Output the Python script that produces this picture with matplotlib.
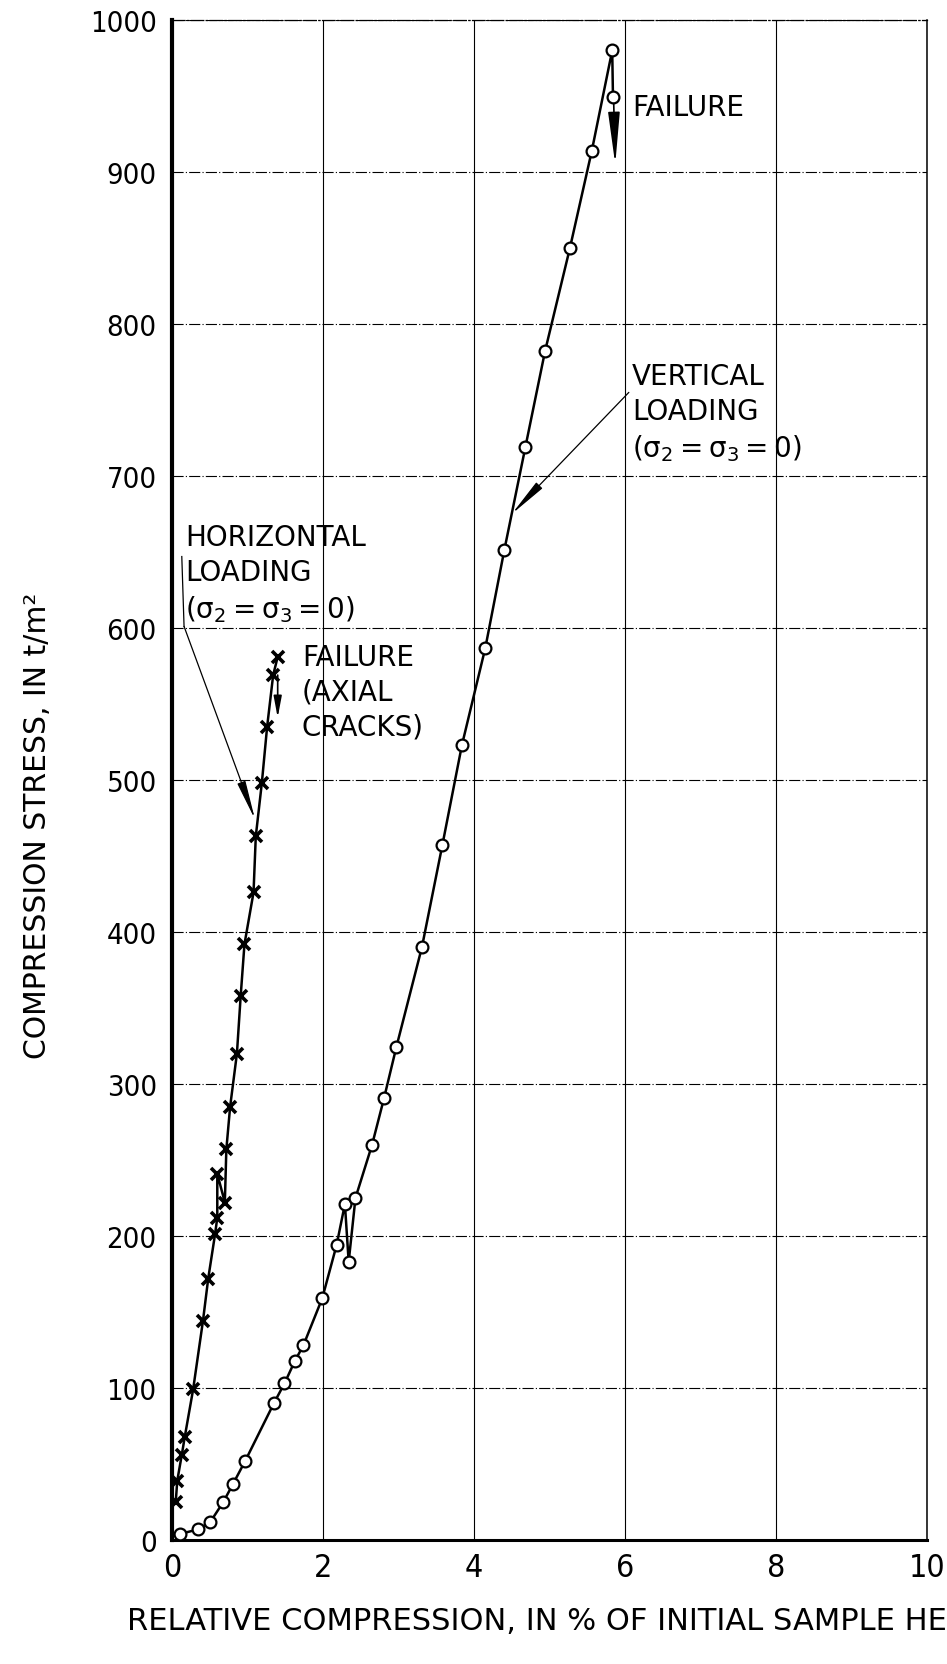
import matplotlib
matplotlib.use('Agg')
import matplotlib.pyplot as plt

# vertical loading (open circles)
vert_x = [0.11, 0.35, 0.51, 0.68, 0.81, 0.97, 1.35, 1.49, 1.63, 1.74, 1.99, 2.18,
          2.29, 2.34, 2.43, 2.65, 2.81, 2.97, 3.31, 3.58, 3.84, 4.15, 4.40, 4.68,
          4.94, 5.27, 5.56, 5.83, 5.84]
vert_y = [4, 7, 12, 25, 37, 52, 90, 103, 118, 128, 159, 194,
          221, 183, 225, 260, 291, 324, 390, 457, 523, 587, 651, 719,
          782, 850, 914, 980, 949]

# horizontal loading (crosses)
horiz_x = [0.05, 0.07, 0.13, 0.17, 0.28, 0.41, 0.48, 0.57, 0.60, 0.60, 0.70,
           0.72, 0.77, 0.86, 0.91, 0.96, 1.08, 1.11, 1.19, 1.26, 1.34, 1.40]
horiz_y = [25, 39, 56, 68, 99, 144, 172, 201, 212, 241, 222,
           257, 285, 320, 358, 392, 426, 463, 498, 535, 569, 581]

x_ticks = [0, 2, 4, 6, 8, 10]
y_ticks = [0, 100, 200, 300, 400, 500, 600, 700, 800, 900, 1000]

plt.rcParams['font.family'] = ['DejaVu Sans']
plt.rcParams['mathtext.fontset'] = 'dejavusans'

fig = plt.figure(figsize=(9.47, 16.65), dpi=100)
ax = fig.add_axes([0.1816, 0.0745, 0.7974, 0.9129])

ax.set_xlim(0, 10)
ax.set_ylim(0, 1000)
ax.set_xticks(x_ticks)
ax.set_yticks(y_ticks)
ax.tick_params(length=0)
ax.tick_params(axis='y', pad=11, labelsize=21)
ax.tick_params(axis='x', pad=9, labelsize=23)
for lab in ax.get_xticklabels() + ax.get_yticklabels():
    lab.set_fontstretch('condensed')

ax.xaxis.grid(True, ls='-', lw=0.8, color='k')
ax.yaxis.grid(True, ls=(0, (10, 2, 1, 2)), lw=0.8, color='k')
ax.set_axisbelow(True)

ax.spines['left'].set_linewidth(3.0)
ax.spines['bottom'].set_linewidth(2.2)
ax.spines['top'].set_linewidth(0.9)
ax.spines['top'].set_linestyle((0, (10, 2, 1, 2)))
ax.spines['right'].set_linewidth(1.1)

ax.plot(vert_x, vert_y, color='k', lw=1.8, marker='o', ms=8.5,
        mfc='white', mec='k', mew=1.6, zorder=3)
ax.plot(horiz_x, horiz_y, color='k', lw=1.8, marker='x', ms=9,
        mew=2.6, zorder=3)

txt = dict(fontsize=20, color='k', va='top', ha='left', linespacing=1.3)
sigma = '(σ$_2$\u2009=\u2009σ$_3$\u2009=\u20090)'

# failure arrows
ax.annotate('', xy=(5.87, 905), xytext=(5.85, 945),
            arrowprops=dict(arrowstyle='-|>,head_length=1.6,head_width=0.18',
                            mutation_scale=20, lw=1.2, color='k',
                            shrinkA=0, shrinkB=0))
ax.text(6.09, 952, 'FAILURE', **txt)

ax.annotate('', xy=(1.40, 541), xytext=(1.40, 569),
            arrowprops=dict(arrowstyle='-|>,head_length=0.8,head_width=0.15',
                            mutation_scale=16, lw=1.2, color='k',
                            shrinkA=0, shrinkB=0))
ax.text(1.72, 590, 'FAILURE\n(AXIAL\nCRACKS)', **txt)

# loading labels
ax.annotate('', xy=(4.50, 675), xytext=(6.05, 755),
            arrowprops=dict(arrowstyle='-|>,head_length=1.2,head_width=0.13',
                            mutation_scale=20, lw=0.9, color='k',
                            shrinkA=0, shrinkB=0))
ax.text(6.09, 775, 'VERTICAL\nLOADING\n' + sigma, **txt)

ax.plot([0.13, 0.16], [647, 601], color='k', lw=0.9)
ax.annotate('', xy=(1.10, 474), xytext=(0.16, 601),
            arrowprops=dict(arrowstyle='-|>,head_length=1.2,head_width=0.13',
                            mutation_scale=20, lw=0.9, color='k',
                            shrinkA=0, shrinkB=0))
ax.text(0.17, 669, 'HORIZONTAL\nLOADING\n' + sigma, **txt)

fig.text(0.040, 0.504, 'COMPRESSION STRESS, IN t/m²', rotation=90,
         ha='center', va='center', fontsize=21.5)
fig.text(0.134, 0.0264, 'RELATIVE COMPRESSION, IN % OF INITIAL SAMPLE HE',
         ha='left', va='center', fontsize=22)

fig.savefig('out.png', dpi=100, facecolor='white')
